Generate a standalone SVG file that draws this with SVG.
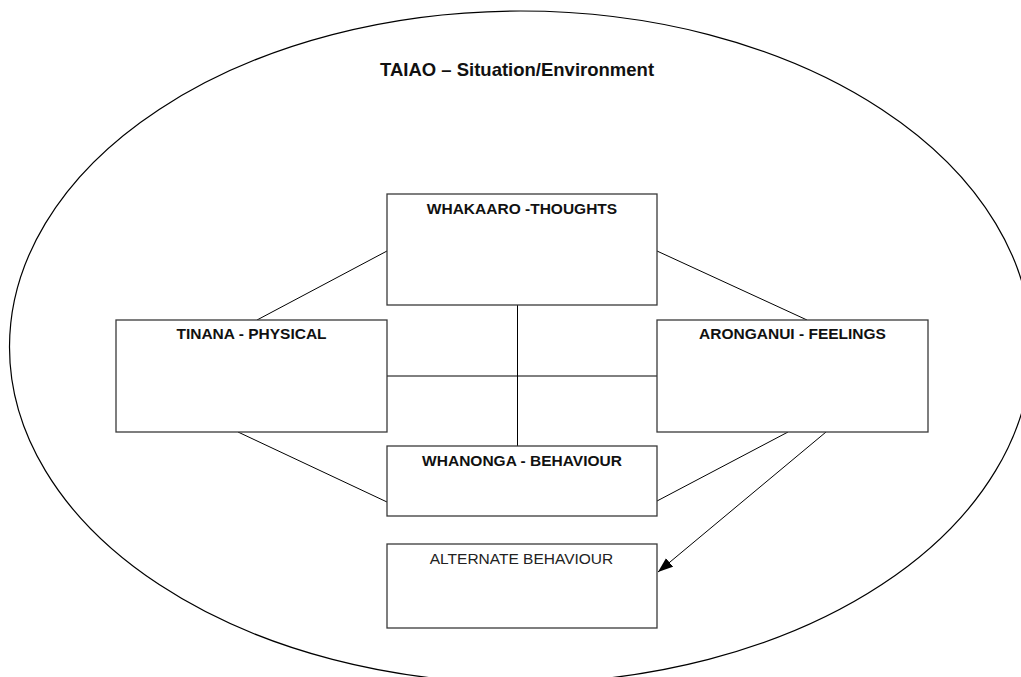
<svg xmlns="http://www.w3.org/2000/svg" width="1021" height="677" viewBox="0 0 1021 677">
  <style>
    .box { fill: #ffffff; stroke: #3a3a3a; stroke-width: 1.3; }
    .link { fill: none; stroke: #000000; stroke-width: 1; }
    .hd { font-family: "Liberation Sans", Arial, sans-serif; font-weight: bold; font-size: 15.5px; fill: #111111; text-anchor: middle; }
    .plain { font-family: "Liberation Sans", Arial, sans-serif; font-size: 15.5px; fill: #222222; text-anchor: middle; }
    .title { font-family: "Liberation Sans", Arial, sans-serif; font-weight: bold; font-size: 18.5px; fill: #111111; text-anchor: middle; }
  </style>
  <defs>
    <marker id="arrow" markerUnits="userSpaceOnUse" markerWidth="16" markerHeight="12" refX="15" refY="5.5" orient="auto">
      <path d="M0,0 L15,5.5 L0,11 z" fill="#000000"/>
    </marker>
  </defs>
  <rect width="1021" height="677" fill="#ffffff"/>

  <!-- environment boundary -->
  <g id="taiao">
    <ellipse cx="520.5" cy="347" rx="511" ry="336" fill="none" stroke="#000000" stroke-width="1.2"/>
    <text class="title" x="517" y="76">TAIAO – Situation/Environment</text>
  </g>

  <!-- connectors -->
  <g id="connectors">
    <line class="link" x1="387" y1="251" x2="257" y2="320"/>
    <line class="link" x1="657" y1="251" x2="807" y2="320"/>
    <line class="link" x1="517.5" y1="305" x2="517.5" y2="446"/>
    <line class="link" x1="387" y1="376" x2="657" y2="376"/>
    <line class="link" x1="238" y1="432" x2="387" y2="502"/>
    <line class="link" x1="788" y1="432" x2="657" y2="501"/>
    <line class="link" x1="826" y1="432" x2="658" y2="572" marker-end="url(#arrow)"/>
  </g>

  <g id="whakaaro">
    <rect class="box" x="387" y="194" width="270" height="111"/>
    <text class="hd" x="522" y="214">WHAKAARO -THOUGHTS</text>
  </g>

  <g id="tinana">
    <rect class="box" x="116" y="320" width="271" height="112"/>
    <text class="hd" x="251.5" y="339">TINANA - PHYSICAL</text>
  </g>

  <g id="aronganui">
    <rect class="box" x="657" y="320" width="271" height="112"/>
    <text class="hd" x="792.5" y="339">ARONGANUI - FEELINGS</text>
  </g>

  <g id="whanonga">
    <rect class="box" x="387" y="446" width="270" height="70"/>
    <text class="hd" x="522" y="466">WHANONGA - BEHAVIOUR</text>
  </g>

  <g id="alternate">
    <rect class="box" x="387" y="544" width="270" height="84"/>
    <text class="plain" x="521.5" y="564">ALTERNATE BEHAVIOUR</text>
  </g>
</svg>
